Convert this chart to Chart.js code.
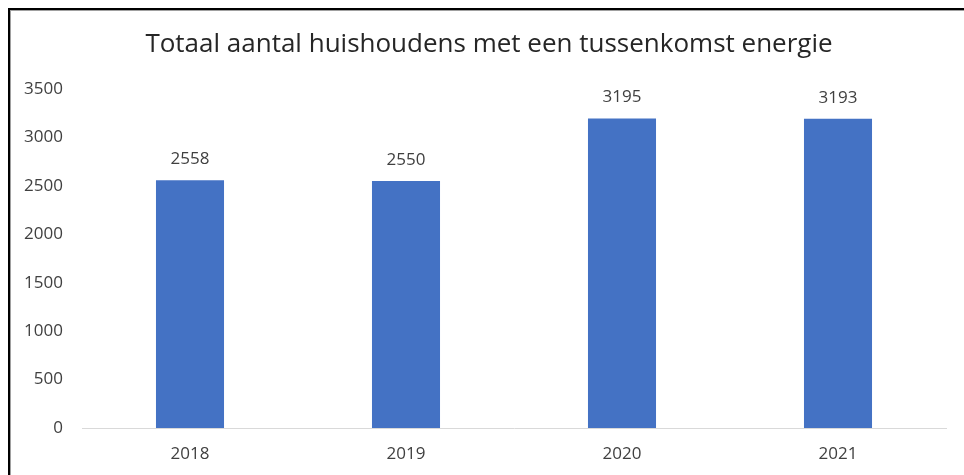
<!DOCTYPE html>
<html>
<head>
<meta charset="utf-8">
<script src="https://cdn.jsdelivr.net/npm/chart.js@4.4.0/dist/chart.umd.min.js"></script>
<style>
  html, body { margin: 0; padding: 0; background: #fff; }
  #wrap { position: relative; width: 964px; height: 475px; }
  #frame {
    position: absolute; left: 8px; top: 8px; right: -10px; bottom: -10px;
    border-top: 2px solid #000; border-left: 2px solid #000;
    box-shadow: inset 1px 1px 0 #a0a0a0;
    pointer-events: none;
  }
  canvas { position: absolute; left: 0; top: 0; }
</style>
</head>
<body>
<div id="wrap">
  <canvas id="chart" width="964" height="475"></canvas>
  <div id="frame"></div>
</div>
<script>
'use strict';

var years  = ['2018', '2019', '2020', '2021'];
var totals = [2558, 2550, 3195, 3193];
var yTicks = [0, 500, 1000, 1500, 2000, 2500, 3000, 3500];
var title  = 'Totaal aantal huishoudens met een tussenkomst energie';

var FONT = '"Open Sans", "Noto Sans", sans-serif';
var TEXT = '#404040';

// titel en waarde boven elke staaf
var labelsPlugin = {
  id: 'labelsPlugin',
  afterDatasetsDraw: function (chart) {
    var ctx = chart.ctx;
    var meta = chart.getDatasetMeta(0);
    ctx.save();
    ctx.fillStyle = '#262626';
    ctx.font = '26px ' + FONT;
    ctx.textAlign = 'center';
    ctx.textBaseline = 'middle';
    ctx.fillText(title, 489, 45);

    ctx.font = '17px ' + FONT;
    ctx.fillStyle = TEXT;
    meta.data.forEach(function (bar, i) {
      ctx.fillText(String(totals[i]), bar.x, bar.y - 21);
    });
    ctx.restore();
  }
};

new Chart(document.getElementById('chart'), {
  type: 'bar',
  data: {
    labels: years,
    datasets: [{
      label: 'Totaal',
      data: totals,
      backgroundColor: '#4472C4',
      barPercentage: 0.315,
      categoryPercentage: 1
    }]
  },
  options: {
    responsive: false,
    animation: false,
    layout: { padding: { left: 0, right: 18, top: 89, bottom: 0 } },
    plugins: {
      legend: { display: false },
      tooltip: { enabled: false },
      title: { display: false }
    },
    scales: {
      x: {
        grid: { display: false, drawTicks: false },
        border: { display: true, color: '#d9d9d9', width: 1 },
        ticks: { color: TEXT, font: { family: FONT, size: 17 }, padding: 16 },
        afterFit: function (scale) { scale.height = 47; }
      },
      y: {
        min: 0,
        max: 3500,
        grid: { display: false, drawTicks: false },
        border: { display: false },
        afterBuildTicks: function (scale) {
          scale.ticks = yTicks.map(function (v) { return { value: v }; });
        },
        ticks: {
          color: TEXT,
          font: { family: FONT, size: 17 },
          padding: 19,
          callback: function (v) { return String(v); }
        },
        afterFit: function (scale) { scale.width = 82; }
      }
    }
  },
  plugins: [labelsPlugin]
});
</script>
</body>
</html>
